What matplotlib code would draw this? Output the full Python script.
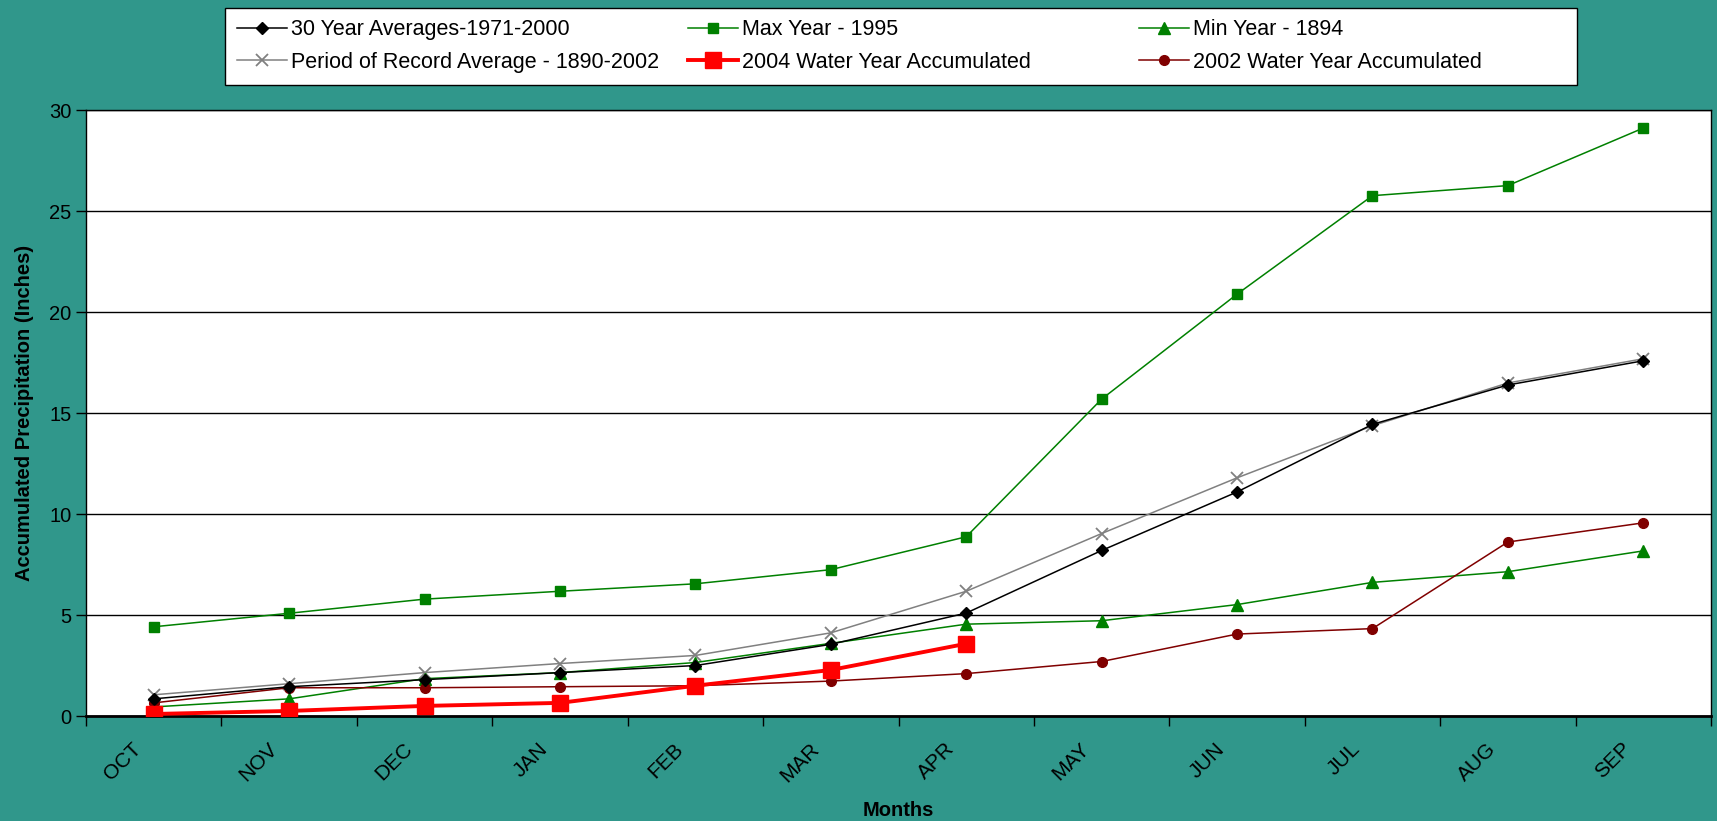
import matplotlib
matplotlib.use("Agg")
import matplotlib.pyplot as plt
import matplotlib.transforms as mtransforms
from matplotlib.patches import Rectangle
import numpy as np

plt.rcParams['font.family'] = ['Liberation Sans', 'DejaVu Sans']

# 데이터
months = ['OCT', 'NOV', 'DEC', 'JAN', 'FEB', 'MAR', 'APR', 'MAY', 'JUN', 'JUL', 'AUG', 'SEP']
avg_30yr = [0.85, 1.45, 1.8, 2.15, 2.5, 3.55, 5.1, 8.2, 11.1, 14.45, 16.4, 17.6]
max_1995 = [4.42, 5.09, 5.79, 6.18, 6.55, 7.25, 8.88, 15.7, 20.9, 25.78, 26.28, 29.13]
min_1894 = [0.45, 0.85, 1.85, 2.15, 2.65, 3.6, 4.55, 4.72, 5.52, 6.62, 7.15, 8.18]
por_avg = [1.05, 1.6, 2.15, 2.6, 3.0, 4.12, 6.18, 9.04, 11.8, 14.38, 16.5, 17.7]
wy_2004 = [0.1, 0.25, 0.5, 0.65, 1.5, 2.28, 3.58]
wy_2002 = [0.65, 1.4, 1.4, 1.45, 1.5, 1.73, 2.1, 2.7, 4.06, 4.33, 8.62, 9.57]

labels = ['30 Year Averages-1971-2000', 'Max Year - 1995', 'Min Year - 1894',
          'Period of Record Average - 1890-2002', '2004 Water Year Accumulated',
          '2002 Water Year Accumulated']

bg = '#30978b'
W, H = 1717, 821
fig = plt.figure(figsize=(W / 100, H / 100), dpi=100, facecolor=bg)
ax = fig.add_axes([86 / W, (H - 716) / H, (1711 - 86) / W, (716 - 110.5) / H])
ax.set_facecolor('white')

x = np.arange(len(months))
x04 = np.arange(len(wy_2004))

h_avg, = ax.plot(x, avg_30yr, color='black', lw=1.1, marker='D', ms=6, zorder=5)
h_max, = ax.plot(x, max_1995, color='#008000', lw=1.1, marker='s', ms=7.2, zorder=4)
h_min, = ax.plot(x, min_1894, color='#008000', lw=1.1, marker='^', ms=8.5, zorder=4)
h_por, = ax.plot(x, por_avg, color='#808080', lw=1.1, marker='x', ms=9, mew=1.3, zorder=3)
h_02, = ax.plot(x, wy_2002, color='#800000', lw=1.1, marker='o', ms=7, zorder=4)
h_04, = ax.plot(x04, wy_2004, color='#ff0000', lw=2.8, marker='s', ms=11, zorder=6)

ax.set_xlim(-0.5, len(months) - 0.5)
ax.set_ylim(0, 30)
ax.set_yticks(np.arange(0, 31, 5))
ax.yaxis.grid(True, color='black', lw=1.0)
ax.set_axisbelow(True)

# 눈금: 경계에 major tick, 가운데에 라벨
ax.set_xticks(np.arange(-0.5, len(months), 1))
ax.set_xticklabels([])
ax.set_xticks(x, minor=True)
ax.set_xticklabels(months, minor=True, rotation=45, ha='right', va='center',
                   rotation_mode='anchor', fontsize=15)
ax.tick_params(axis='x', which='major', length=7, width=1, direction='out')
ax.tick_params(axis='x', which='minor', length=0, pad=21.5)
ax.tick_params(axis='y', length=7, width=1, labelsize=14.5, pad=3.5)
shift = mtransforms.ScaledTranslation(-15 / 100, 0, fig.dpi_scale_trans)
for lab in ax.get_xticklabels(minor=True):
    lab.set_transform(lab.get_transform() + shift)

for s in ax.spines.values():
    s.set_color('black')
    s.set_linewidth(1.0)
ax.spines['bottom'].set_linewidth(2.0)

ax.set_ylabel('Accumulated Precipitation (Inches)', fontsize=14.5, fontweight='bold')
ax.yaxis.set_label_coords(-52 / (1711 - 86), 0.5)
fig.text(898 / W, 1 - 810 / H, 'Months', fontsize=14.5, fontweight='bold',
         ha='center', va='center')

# 범례: 테두리 + 3개 열
fig.patches.append(Rectangle((225 / W, 1 - 85 / H), (1577 - 225) / W, (85 - 8) / H,
                             transform=fig.transFigure, facecolor='white',
                             edgecolor='black', lw=1.0, zorder=0))
cols = [([h_avg, h_por], [labels[0], labels[3]], 237),
        ([h_max, h_04], [labels[1], labels[4]], 688),
        ([h_min, h_02], [labels[2], labels[5]], 1139)]
for hs, ls, x0 in cols:
    leg = fig.legend(hs, ls, loc='center left', bbox_to_anchor=(x0 / W, 1 - 46 / H),
                     frameon=False, fontsize=15.5, handlelength=2.3, handletextpad=0.2,
                     labelspacing=0.55, borderpad=0, borderaxespad=0)

fig.savefig('out.png', dpi=100, facecolor=bg)
